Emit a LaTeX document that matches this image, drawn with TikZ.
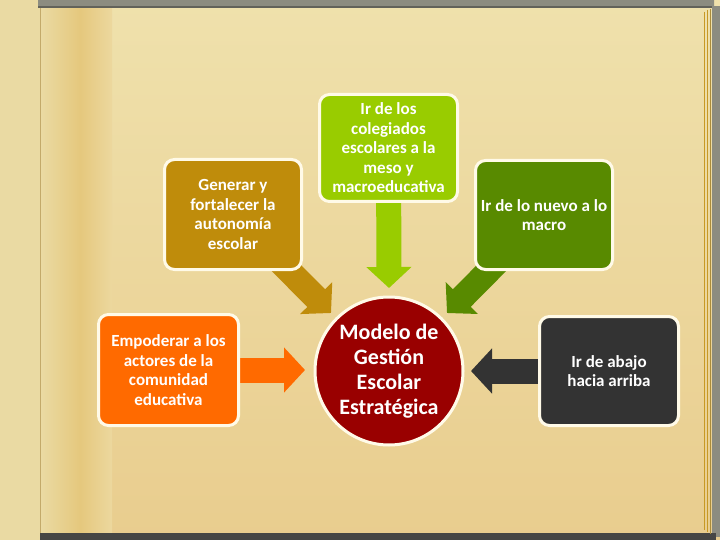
\documentclass[tikz,border=0pt]{standalone}
\usepackage{fontspec}
\setmainfont{Carlito}
\usetikzlibrary{arrows.meta,backgrounds}
\definecolor{parchT}{RGB}{239,225,172}
\definecolor{parchB}{RGB}{233,205,142}
\definecolor{leafL}{RGB}{234,218,163}
\definecolor{creaseD}{RGB}{229,200,125}
\definecolor{barG}{RGB}{140,140,128}
\definecolor{barD}{RGB}{70,70,68}
\definecolor{gold}{RGB}{191,140,11}
\definecolor{lime}{RGB}{153,204,0}
\definecolor{leaf}{RGB}{88,138,0}
\definecolor{orng}{RGB}{255,106,0}
\definecolor{slate}{RGB}{51,51,51}
\definecolor{wine}{RGB}{153,0,0}
\definecolor{rim}{RGB}{255,250,232}
\tikzset{
  box/.style={draw=rim, line width=3pt, rounded corners=10pt, text=white,
    font=\bfseries\fontsize{17}{19.5}\selectfont, align=center,
    minimum width=137pt, minimum height=109pt, inner sep=2pt},
  hub/.style={circle, draw=rim, line width=3pt, fill=wine, text=white,
    font=\bfseries\fontsize{22}{25}\selectfont, align=center,
    minimum size=148pt, inner sep=0pt},
  blockarrow/.style={line width=25pt,
    -{Triangle[length=21pt,width=44pt]}}
}
\begin{document}
\begin{tikzpicture}[x=1pt,y=-1pt]
\useasboundingbox (0,0) rectangle (720,540);
% nodes
\node[hub] (hub) at (389,371) {Modelo de\\Gestión\\Escolar\\Estratégica};
\node[box, fill=gold, minimum width=137pt, minimum height=110pt] (gen) at (233,214.5)
  {Generar y\\fortalecer la\\autonomía\\escolar};
\node[box, fill=lime, minimum width=138pt, minimum height=107pt] (top) at (388.5,148)
  {Ir de los\\colegiados\\escolares a la\\meso y\\macroeducativa};
\node[box, fill=leaf, minimum width=137pt, minimum height=109pt] (new) at (544,215)
  {Ir de lo nuevo a lo\\macro};
\node[box, fill=orng, minimum width=140pt, minimum height=111pt] (emp) at (168.5,370)
  {Empoderar a los\\actores de la\\comunidad\\educativa};
\node[box, fill=slate, minimum width=139pt, minimum height=109pt] (up) at (609,371)
  {Ir de abajo\\hacia arriba};
\coordinate (tipG) at (331,313);
\coordinate (tipT) at (389,288);
\coordinate (tipN) at (447,313);
\coordinate (tipE) at (305,370);
\coordinate (tipU) at (471,371);
\begin{scope}[on background layer]
% book background
\shade[top color=parchT, bottom color=parchB] (0,0) rectangle (720,540);
\fill[leafL] (0,0) rectangle (40,540);
\shade[left color=leafL, right color=creaseD] (41,6) rectangle (80,534);
\shade[left color=creaseD, right color=parchT!55!parchB] (80,6) rectangle (112,534);
\draw[creaseD!85!black, line width=0.5pt] (40.5,6) -- (40.5,534);
\fill[barG] (38,0) -- (706,0) arc[start angle=90, end angle=0, radius=8] -- (714,8) -- (38,8) -- cycle;
\fill[barG!70!black] (38,6) rectangle (712,8);
\fill[barG] (712,6) rectangle (720,537);
\fill[barD] (40,533) rectangle (716,540);
\draw[gold!80!parchB, line width=0.8pt] (704,12) -- (704,530);
\draw[gold!80!parchB, line width=0.8pt] (707,10) -- (707,532);
\draw[gold!60!barG, line width=0.8pt] (710,9) -- (710,534);
% connectors
\draw[blockarrow, draw=gold, fill=gold] (gen.center) -- (tipG);
\draw[blockarrow, draw=lime, fill=lime] (top.center) -- (tipT);
\draw[blockarrow, draw=leaf, fill=leaf] (new.center) -- (tipN);
\draw[blockarrow, draw=orng, fill=orng] (emp.center) -- (tipE);
\draw[blockarrow, draw=slate, fill=slate] (up.center) -- (tipU);
\end{scope}
\end{tikzpicture}
\end{document}
